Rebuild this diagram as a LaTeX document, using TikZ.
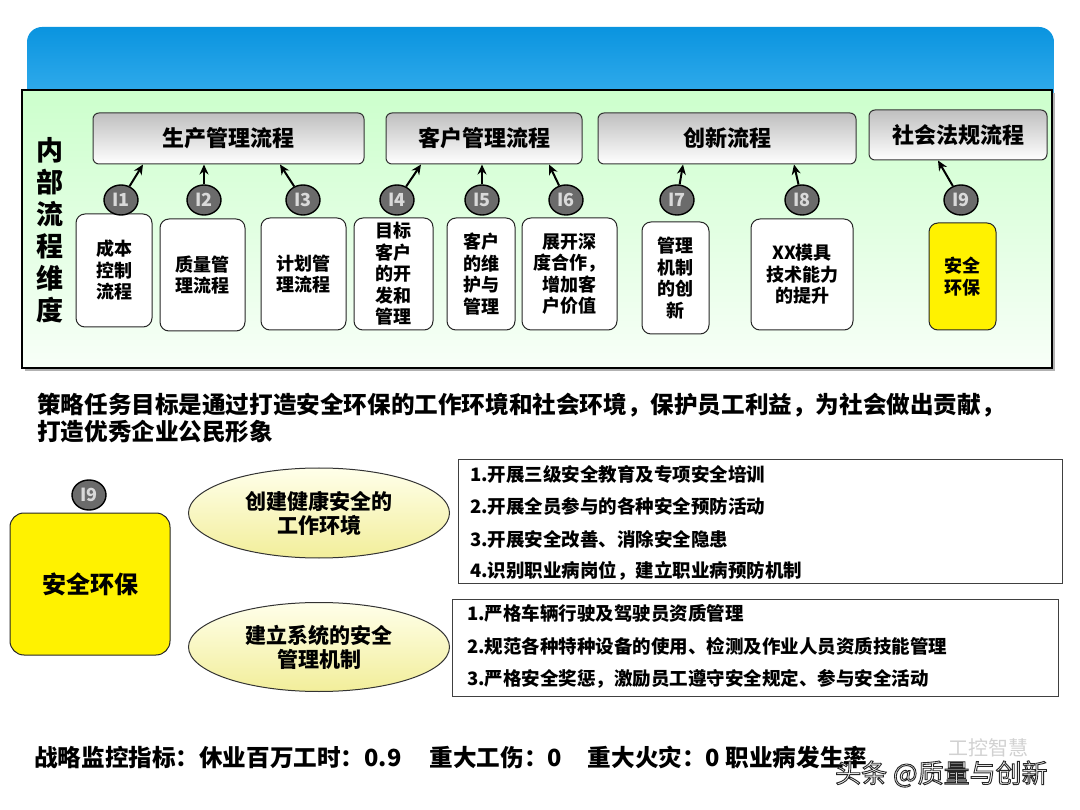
\documentclass[tikz,border=0pt]{standalone}
\usepackage{fontspec}
\setmainfont{Noto Sans CJK SC}
\usetikzlibrary{shapes.geometric,arrows.meta}
\definecolor{bantop}{HTML}{0A94DF}
\definecolor{banbot}{HTML}{3AB0EE}
\definecolor{grntop}{HTML}{CCFFCC}
\definecolor{grnbot}{HTML}{F8FFF8}
\definecolor{elltop}{HTML}{FFFFEA}
\definecolor{ellbot}{HTML}{F2EE9A}
\newcommand\fsz[2]{\fontsize{#1}{#2}\selectfont}
\newcommand\outlined[1]{\special{pdf:literal direct q 2 Tr 0.9 w 0.15 0.15 0.15 RG 1 1 1 rg}#1\special{pdf:literal direct Q}}
\tikzset{
  topbox/.style={draw=black!80, line width=1pt, rounded corners=6pt, top color=black!25, bottom color=white, font=\fsz{22}{26}\bfseries, inner sep=0pt},
  subbox/.style={draw=black!85, line width=1pt, rounded corners=9pt, fill=white, font=\fsz{18}{21.5}\bfseries, align=center, inner sep=0pt},
  lbl/.style={ellipse, draw=black, line width=1.4pt, fill=black!58, text=white!85!black, font=\fsz{18}{18}\bfseries, minimum width=34pt, minimum height=30pt, inner sep=0pt},
  arr/.style={-{Stealth[length=10pt,width=9pt]}, line width=2pt},
  ellnode/.style={ellipse, draw=black!80, line width=1pt, top color=elltop, bottom color=ellbot, font=\fsz{21}{24}\bfseries, align=center, inner sep=0pt},
  listbox/.style={draw=black!75, line width=1pt, fill=white, inner sep=0pt, anchor=north west},
  listtext/.style={anchor=west, inner sep=0pt, font=\fsz{18.5}{22}\bfseries},
  bigtext/.style={anchor=west, inner sep=0pt, font=\fsz{23.6}{28}\bfseries}
}
\begin{document}
\begin{tikzpicture}[x=1pt,y=-1pt]
\useasboundingbox (0,0) rectangle (1080,810);
% banner
\shade[top color=bantop, bottom color=banbot, rounded corners=15pt] (27,27) rectangle (1054,110);
% green panel with shadow
\fill[black!30] (25,93) rectangle (1055,371);
\draw[line width=2pt, top color=grntop, bottom color=grnbot] (22,90) rectangle (1052,368);
% vertical label
\node[align=center, inner sep=0pt, font=\fsz{27}{32}\bfseries] (vlab) at (50,230) {内\\部\\流\\程\\维\\度};
% top process boxes
\node[topbox, minimum width=271pt, minimum height=51pt] (t1) at (228.5,138.5) {生产管理流程};
\node[topbox, minimum width=196pt, minimum height=51pt] (t2) at (484,138.5) {客户管理流程};
\node[topbox, minimum width=258pt, minimum height=51pt] (t3) at (727,138.5) {创新流程};
\node[topbox, minimum width=178pt, minimum height=50pt] (t4) at (958,135) {社会法规流程};
% sub boxes
\node[subbox, minimum width=76pt, minimum height=113pt] (b1) at (114,270.5) {成本\\控制\\流程};
\node[subbox, minimum width=85pt, minimum height=112pt] (b2) at (202.5,275) {质量管\\理流程};
\node[subbox, minimum width=85pt, minimum height=112pt] (b3) at (303.5,274) {计划管\\理流程};
\node[subbox, minimum width=79pt, minimum height=112pt] (b4) at (393.5,274) {目标\\客户\\的开\\发和\\管理};
\node[subbox, minimum width=68pt, minimum height=112pt] (b5) at (481,274) {客户\\的维\\护与\\管理};
\node[subbox, minimum width=95pt, minimum height=112pt] (b6) at (569.5,274) {展开深\\度合作，\\增加客\\户价值};
\node[subbox, minimum width=67pt, minimum height=112pt] (b7) at (675.5,278) {管理\\机制\\的创\\新};
\node[subbox, minimum width=102pt, minimum height=111pt] (b8) at (802,274.5) {XX模具\\技术能力\\的提升};
\node[subbox, fill=yellow, minimum width=67pt, minimum height=107pt] (b9) at (962.5,276.5) {安全\\环保};
% labels
\node[lbl] (c1) at (121,200) {I1};
\node[lbl] (c2) at (204,200) {I2};
\node[lbl] (c3) at (303,200) {I3};
\node[lbl] (c4) at (397,200) {I4};
\node[lbl] (c5) at (482,200) {I5};
\node[lbl] (c6) at (566,200) {I6};
\node[lbl] (c7) at (677,200) {I7};
\node[lbl] (c8) at (802,200) {I8};
\node[lbl] (c9) at (961,200) {I9};
% arrows
\draw[arr] (c1) -- (t1.south -| 143,0);
\draw[arr] (c2) -- (t1.south -| 204,0);
\draw[arr] (c3) -- (t1.south -| 280,0);
\draw[arr] (c4) -- (t2.south -| 421,0);
\draw[arr] (c5) -- (t2.south -| 482,0);
\draw[arr] (c6) -- (t2.south -| 549,0);
\draw[arr] (c7) -- (t3.south -| 683,0);
\draw[arr] (c8) -- (t3.south -| 794,0);
\draw[arr] (c9) -- (t4.south -| 938,0);
% paragraph
\node[bigtext] (p1) at (37,405) {策略任务目标是通过打造安全环保的工作环境和社会环境，保护员工利益，为社会做出贡献，};
\node[bigtext] (p2) at (37,432) {打造优秀企业公民形象};
% lower section
\node[subbox, fill=yellow, rounded corners=14pt, font=\fsz{24}{28}\bfseries, minimum width=160pt, minimum height=142pt] (yb) at (90,584) {安全环保};
\node[lbl] (c10) at (89,495) {I9};
\node[ellnode, minimum width=261pt, minimum height=90pt] (e1) at (319,513) {创建健康安全的\\工作环境};
\node[ellnode, minimum width=261pt, minimum height=89pt] (e2) at (319,647) {建立系统的安全\\管理机制};
\node[listbox, minimum width=604pt, minimum height=124pt] (l1) at (458,459) {};
\node[listtext] (l1a) at (470,474) {1.开展三级安全教育及专项安全培训};
\node[listtext] (l1b) at (470,506) {2.开展全员参与的各种安全预防活动};
\node[listtext] (l1c) at (470,539) {3.开展安全改善、消除安全隐患};
\node[listtext] (l1d) at (470,571) {4.识别职业病岗位，建立职业病预防机制};
\node[listbox, minimum width=606pt, minimum height=97pt] (l2) at (452,599) {};
\node[listtext] (l2a) at (467,613) {1.严格车辆行驶及驾驶员资质管理};
\node[listtext] (l2b) at (467,646) {2.规范各种特种设备的使用、检测及作业人员资质技能管理};
\node[listtext] (l2c) at (467,679) {3.严格安全奖惩，激励员工遵守安全规定、参与安全活动};
% bottom line
\node[bigtext] (kpi) at (34,757) {战略监控指标：休业百万工时：0.9\hspace{28pt}重大工伤：0\hspace{26pt}重大火灾：0 职业病发生率};
% watermarks
\node[anchor=west, inner sep=0pt, text=black!18, font=\fsz{20}{22}] (wm1) at (948,748) {工控智慧};
\node[anchor=west, inner sep=0pt, font=\fsz{26}{28}] (wm2) at (835,774) {\outlined{头条 @质量与创新}};
\end{tikzpicture}
\end{document}
